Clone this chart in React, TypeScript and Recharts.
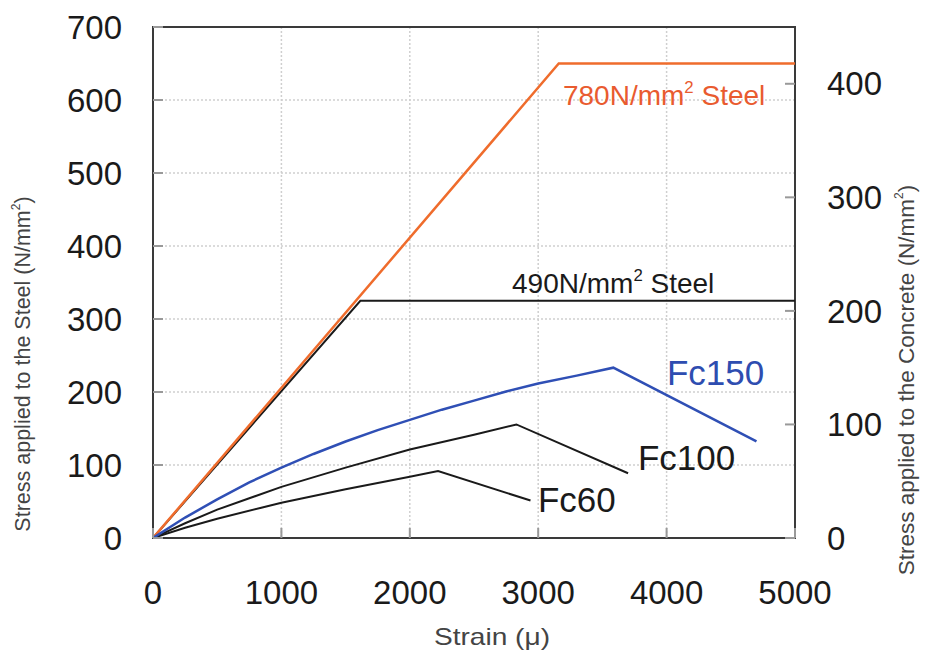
import { LineChart, Line, XAxis, YAxis, CartesianGrid, ReferenceArea, ReferenceDot } from "recharts";

const FONT = "'Liberation Sans', Arial, sans-serif";

const strainTicks = [0, 1000, 2000, 3000, 4000, 5000];
const steelTicks = [0, 100, 200, 300, 400, 500, 600, 700];
const concreteTicks = [0, 100, 200, 300, 400];

// steel (left axis)
const steel780Strain = [0, 3160, 5000];
const steel780Stress = [0, 650, 650];
const steel490Strain = [0, 1615, 5000];
const steel490Stress = [0, 325, 325];

// concrete (right axis)
const fc150Strain = [0, 250, 500, 750, 1000, 1250, 1500, 1750, 2000, 2250, 2500, 2750, 3000, 3300, 3585, 4700];
const fc150Stress = [0, 18, 34, 49, 62, 74, 85, 95, 104, 113, 121, 129, 136, 143, 150, 85];
const fc100Strain = [0, 250, 500, 750, 1000, 1500, 2000, 2500, 2830, 3700];
const fc100Stress = [0, 13, 25, 35, 45, 62, 78, 91, 100, 57];
const fc60Strain = [0, 250, 500, 1000, 1500, 2000, 2220, 2940];
const fc60Stress = [0, 9, 17, 31, 43, 54, 59, 33];

const toPoints = (xs: number[], ys: number[]) => xs.map((x, i) => ({ strain: x, stress: ys[i] }));

const CurveLabel = ({ viewBox, text, sup, rest, color, size }: any) => {
  const x = viewBox.x + (viewBox.width || 0) / 2;
  const y = viewBox.y + (viewBox.height || 0) / 2;
  return (
    <text x={x} y={y} fill={color} fontSize={size} fontFamily={FONT}>
      {text}
      {sup && (
        <tspan fontSize={size * 0.6} dy={-size * 0.42}>
          {sup}
        </tspan>
      )}
      {rest && <tspan dy={sup ? size * 0.42 : 0}>{rest}</tspan>}
    </text>
  );
};

const AxisTitle = ({ x, y, text, size }: any) => (
  <text
    x={x}
    y={y}
    transform={`rotate(-90, ${x}, ${y})`}
    textAnchor="middle"
    dominantBaseline="central"
    fontSize={size}
    fill="#444"
    fontFamily={FONT}
  >
    {text}
    <tspan fontSize={12} dy={-7}>2</tspan>
    <tspan dy={7}>)</tspan>
  </text>
);

const tickStyle = { fontSize: 33, fill: "#1a1a1a", fontFamily: FONT };
const tickLineStyle = { stroke: "#999", strokeWidth: 2 };

export default function App() {
  return (
    <div style={{ width: 924, height: 644 }}>
      <LineChart width={924} height={644} margin={{ top: 19, right: 0, bottom: 0, left: 0 }}>
        <CartesianGrid yAxisId="left" stroke="#cfcfcf" strokeDasharray="2 2" strokeWidth={1.5} />
        <XAxis
          dataKey="strain"
          type="number"
          domain={[0, 5000]}
          ticks={strainTicks}
          height={114}
          axisLine={false}
          tickLine={tickLineStyle}
          tickSize={-10}
          tickMargin={53}
          tick={tickStyle}
          allowDataOverflow
          label={{
            content: () => (
              <text
                x={484}
                y={628}
                textAnchor="middle"
                dominantBaseline="central"
                fontSize={24}
                textLength={116}
                lengthAdjust="spacingAndGlyphs"
                fill="#444"
                fontFamily={FONT}
              >
                Strain (μ)
              </text>
            ),
          }}
        />
        <YAxis
          yAxisId="left"
          type="number"
          domain={[0, 700]}
          ticks={steelTicks}
          width={145}
          axisLine={false}
          tickLine={tickLineStyle}
          tickSize={-10}
          tickMargin={41}
          tick={tickStyle}
          allowDataOverflow
          label={{ content: () => <AxisTitle x={15} y={356} size={21.5} text="Stress applied to the Steel (N/mm" /> }}
        />
        <YAxis
          yAxisId="right"
          orientation="right"
          type="number"
          domain={[0, 450]}
          ticks={concreteTicks}
          width={137}
          axisLine={false}
          tickLine={tickLineStyle}
          tickSize={-10}
          tickMargin={42}
          tick={{ ...tickStyle, textAnchor: "start" }}
          allowDataOverflow
          label={{ content: () => <AxisTitle x={898} y={372} size={22.5} text="Stress applied to the Concrete (N/mm" /> }}
        />
        <ReferenceArea yAxisId="left" x1={0} x2={5000} y1={0} y2={700} fill="none" stroke="#3a3a3a" strokeWidth={2} />
        <Line yAxisId="left" data={toPoints(steel490Strain, steel490Stress)} dataKey="stress" type="linear" stroke="#1a1a1a" strokeWidth={2} dot={false} isAnimationActive={false} />
        <Line yAxisId="left" data={toPoints(steel780Strain, steel780Stress)} dataKey="stress" type="linear" stroke="#EF6C2C" strokeWidth={2.5} dot={false} isAnimationActive={false} />
        <Line yAxisId="right" data={toPoints(fc60Strain, fc60Stress)} dataKey="stress" type="linear" stroke="#1a1a1a" strokeWidth={2} dot={false} isAnimationActive={false} />
        <Line yAxisId="right" data={toPoints(fc100Strain, fc100Stress)} dataKey="stress" type="linear" stroke="#1a1a1a" strokeWidth={2} dot={false} isAnimationActive={false} />
        <Line yAxisId="right" data={toPoints(fc150Strain, fc150Stress)} dataKey="stress" type="linear" stroke="#2F4FB5" strokeWidth={2.5} dot={false} isAnimationActive={false} />
        <ReferenceDot yAxisId="left" x={3193} y={593} r={0} label={{ content: (p: any) => <CurveLabel viewBox={p.viewBox} text="780N/mm" sup="2" rest=" Steel" color="#E95B2F" size={28} /> }} />
        <ReferenceDot yAxisId="left" x={2796} y={336} r={0} label={{ content: (p: any) => <CurveLabel viewBox={p.viewBox} text="490N/mm" sup="2" rest=" Steel" color="#1a1a1a" size={28} /> }} />
        <ReferenceDot yAxisId="left" x={4003} y={210} r={0} label={{ content: (p: any) => <CurveLabel viewBox={p.viewBox} text="Fc150" color="#2E4DB0" size={35} /> }} />
        <ReferenceDot yAxisId="left" x={3777} y={93} r={0} label={{ content: (p: any) => <CurveLabel viewBox={p.viewBox} text="Fc100" color="#1a1a1a" size={35} /> }} />
        <ReferenceDot yAxisId="left" x={2998} y={36} r={0} label={{ content: (p: any) => <CurveLabel viewBox={p.viewBox} text="Fc60" color="#1a1a1a" size={35} /> }} />
      </LineChart>
    </div>
  );
}
